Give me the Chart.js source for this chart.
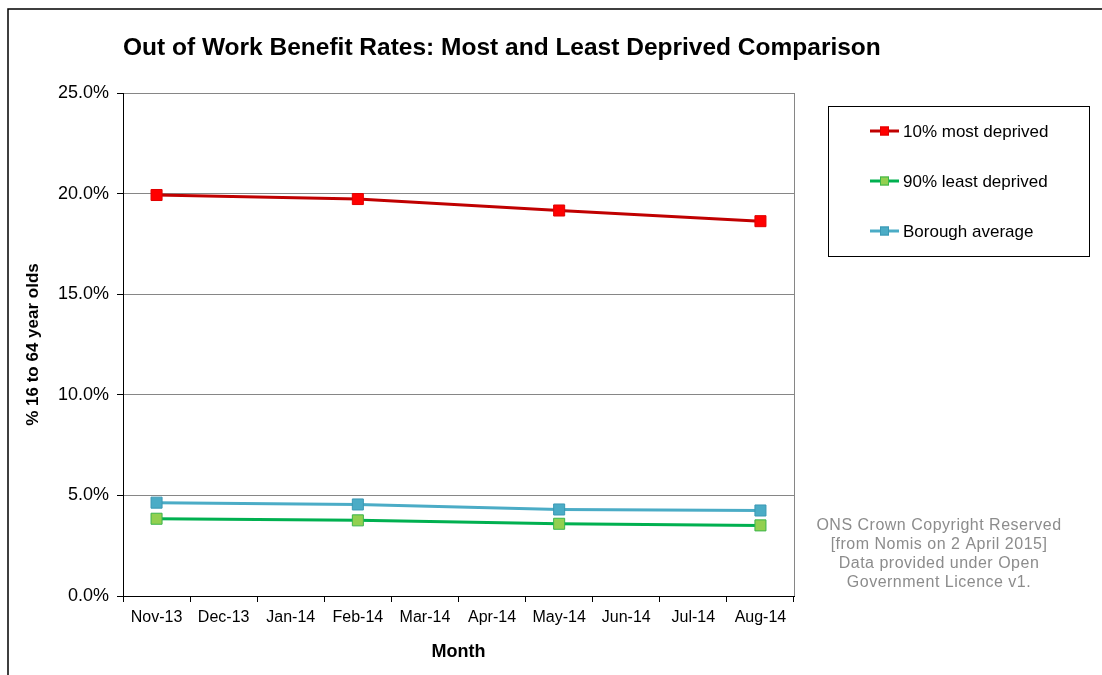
<!DOCTYPE html>
<html>
<head>
<meta charset="utf-8">
<script src="https://cdn.jsdelivr.net/npm/chart.js@4.4.1/dist/chart.umd.min.js"></script>
<style>
  html, body { margin: 0; padding: 0; background: #fff; }
  #wrap { width: 1102px; height: 675px; position: relative; }
</style>
</head>
<body>
<div id="wrap"><canvas id="c" width="1102" height="675"></canvas></div>
<script>
// Monthly categories on the x axis
const months = ['Nov-13', 'Dec-13', 'Jan-14', 'Feb-14', 'Mar-14', 'Apr-14', 'May-14', 'Jun-14', 'Jul-14', 'Aug-14'];

// Quarterly readings (% of 16-64 year olds); null for months without data
const mostDeprived  = [19.93, null, null, 19.73, null, null, 19.16, null, null, 18.63];
const leastDeprived = [3.84, null, null, 3.76, null, null, 3.59, null, null, 3.51];
const boroughAvg    = [4.64, null, null, 4.55, null, null, 4.30, null, null, 4.25];

const seriesLabels = ['10% most deprived', '90% least deprived', 'Borough average'];
const yTicks = [0, 5, 10, 15, 20, 25];

const titleText = 'Out of Work Benefit Rates: Most and Least Deprived Comparison';
const noteLines = ['ONS Crown Copyright Reserved', '[from Nomis on 2 April 2015]', 'Data provided under Open', 'Government Licence v1.'];

const FONT = '"Liberation Sans", Arial, sans-serif';

// Frame, title, legend box, source note and plot border
const decor = {
  id: 'decor',
  beforeDraw(chart) {
    const ctx = chart.ctx;
    ctx.save();
    ctx.fillStyle = '#fff';
    ctx.fillRect(0, 0, chart.width, chart.height);
    ctx.strokeStyle = '#000';
    ctx.lineWidth = 1.5;
    ctx.beginPath();
    ctx.moveTo(8, chart.height + 2);
    ctx.lineTo(8, 9);
    ctx.lineTo(chart.width + 2, 9);
    ctx.stroke();
    ctx.restore();
  },
  afterDraw(chart) {
    const ctx = chart.ctx;
    const a = chart.chartArea;
    ctx.save();
    // right edge of the plot
    ctx.strokeStyle = '#868686';
    ctx.lineWidth = 1;
    ctx.beginPath();
    ctx.moveTo(Math.round(a.right) + 0.5, a.top);
    ctx.lineTo(Math.round(a.right) + 0.5, a.bottom);
    ctx.stroke();

    // title
    ctx.fillStyle = '#000';
    ctx.font = 'bold 24.5px ' + FONT;
    ctx.textBaseline = 'middle';
    ctx.textAlign = 'left';
    ctx.fillText(titleText, 123, 48);

    // legend
    ctx.strokeStyle = '#000';
    ctx.lineWidth = 1;
    ctx.strokeRect(828.5, 106.5, 261, 150);
    ctx.font = '17px ' + FONT;
    chart.data.datasets.forEach((ds, i) => {
      const y = 131 + i * 50;
      ctx.strokeStyle = ds.borderColor;
      ctx.lineWidth = 3;
      ctx.beginPath();
      ctx.moveTo(870, y);
      ctx.lineTo(899, y);
      ctx.stroke();
      ctx.fillStyle = ds.pointBackgroundColor;
      ctx.fillRect(880, y - 4.5, 9, 9);
      ctx.strokeStyle = ds.pointBorderColor;
      ctx.lineWidth = 1;
      ctx.strokeRect(880.5, y - 4, 8, 8);
      ctx.fillStyle = '#000';
      ctx.fillText(ds.label, 903, y + 1);
    });

    // source note
    ctx.fillStyle = '#8c8c8c';
    ctx.font = '16px ' + FONT;
    ctx.letterSpacing = '0.5px';
    ctx.textAlign = 'center';
    noteLines.forEach((t, i) => ctx.fillText(t, 939, 526 + i * 18.7));
    ctx.restore();
  }
};

new Chart(document.getElementById('c'), {
  type: 'line',
  data: {
    labels: months,
    datasets: [
      {
        label: seriesLabels[0], data: mostDeprived,
        borderColor: '#C00000', backgroundColor: '#FF0000',
        pointBackgroundColor: '#FF0000', pointBorderColor: '#E00000'
      },
      {
        label: seriesLabels[1], data: leastDeprived,
        borderColor: '#00B050', backgroundColor: '#92D050',
        pointBackgroundColor: '#92D050', pointBorderColor: '#3BB54A'
      },
      {
        label: seriesLabels[2], data: boroughAvg,
        borderColor: '#4BACC6', backgroundColor: '#4BACC6',
        pointBackgroundColor: '#4BACC6', pointBorderColor: '#3A98B4'
      }
    ].map(d => Object.assign(d, {
      borderWidth: 3, spanGaps: true, tension: 0,
      pointStyle: 'rect', pointRadius: 7.8, pointBorderWidth: 1, pointHoverRadius: 7.8
    }))
  },
  options: {
    responsive: false,
    animation: false,
    events: [],
    layout: { padding: { left: 0, top: 93, right: 308, bottom: 0 } },
    plugins: { legend: { display: false }, title: { display: false }, tooltip: { enabled: false } },
    scales: {
      x: {
        offset: true,
        grid: { offset: true, drawOnChartArea: false, drawTicks: true, tickLength: 6, tickColor: '#000' },
        border: { color: '#000', width: 1 },
        ticks: { color: '#000', font: { family: FONT, size: 16 }, padding: 6, maxRotation: 0, autoSkip: false },
        title: { display: true, text: 'Month', color: '#000', font: { family: FONT, size: 18, weight: 'bold' }, padding: { top: 0, bottom: 12 } },
        afterFit(scale) { scale.height = 79; }
      },
      y: {
        min: 0, max: 25,
        afterBuildTicks(scale) { scale.ticks = yTicks.map(v => ({ value: v })); },
        grid: { color: '#868686', lineWidth: 1, tickLength: 6, tickColor: '#000' },
        border: { color: '#000', width: 1 },
        ticks: { color: '#000', font: { family: FONT, size: 18 }, padding: 8, callback: v => v.toFixed(1) + '%' },
        title: { display: true, text: '% 16 to 64 year olds', color: '#000', font: { family: FONT, size: 17, weight: 'bold' }, padding: { top: 23, bottom: 0 } },
        afterFit(scale) { scale.width = 123; }
      }
    }
  },
  plugins: [decor]
});
</script>
</body>
</html>
